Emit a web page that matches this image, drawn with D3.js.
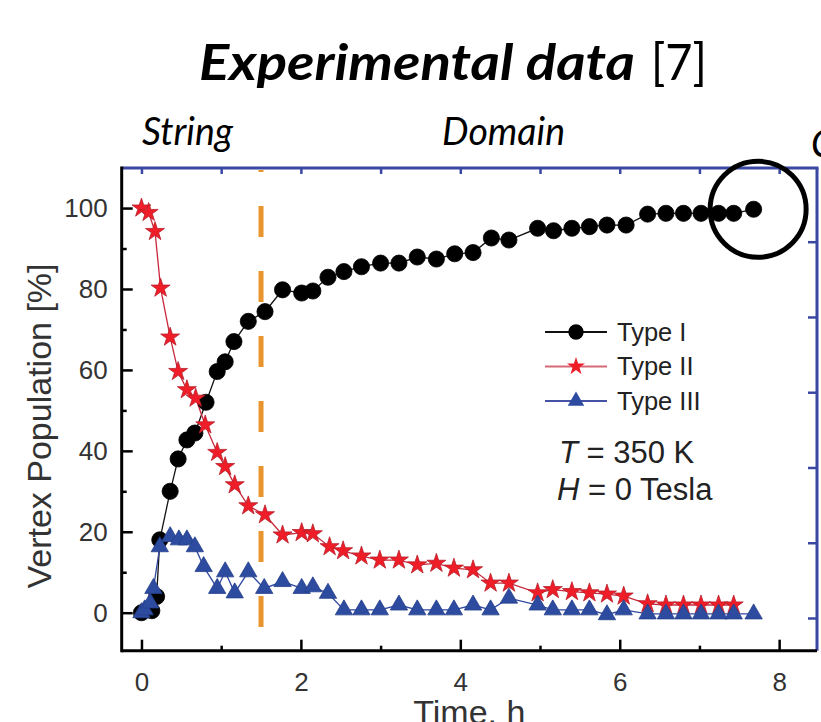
<!DOCTYPE html>
<html>
<head>
<meta charset="utf-8">
<script src="https://cdn.jsdelivr.net/npm/d3@7"></script>
<style>
  body { margin: 0; background: #fff; }
  svg { display: block; }
</style>
</head>
<body>
<div id="chart-area"></div>
<script>
// values (time in h, population in %)
var timeI = [0, 0.13, 0.19, 0.23, 0.36, 0.46, 0.57, 0.67, 0.81, 0.95, 1.05, 1.16, 1.34, 1.55, 1.77, 2.01, 2.15, 2.34, 2.54, 2.76, 3.0, 3.23, 3.46, 3.70, 3.93, 4.16, 4.39, 4.61, 4.97, 5.17, 5.40, 5.62, 5.84, 6.08, 6.35, 6.58, 6.80, 7.02, 7.24, 7.43, 7.68];
var typeI = [0, 0.5, 4, 18, 30, 38, 42.7, 44.4, 52, 59.6, 62, 67, 72, 74.4, 79.8, 79, 79.5, 82.9, 84.3, 85.5, 86.4, 86.4, 87.9, 87.4, 88.7, 89, 92.6, 92.1, 95, 94.4, 95, 95.4, 95.8, 95.8, 98.5, 98.7, 98.7, 98.7, 98.7, 98.7, 99.7];

var timeII = [0, 0.09, 0.17, 0.24, 0.36, 0.46, 0.57, 0.68, 0.80, 0.95, 1.05, 1.17, 1.34, 1.55, 1.77, 2.01, 2.15, 2.36, 2.53, 2.76, 2.99, 3.23, 3.46, 3.70, 3.92, 4.16, 4.38, 4.61, 4.97, 5.16, 5.40, 5.62, 5.84, 6.05, 6.35, 6.58, 6.80, 7.02, 7.24, 7.43];
var typeII = [100, 98.9, 94.2, 80.2, 68.1, 59.6, 55.1, 53, 46.4, 39.6, 36.1, 31.6, 26.4, 24.2, 19.2, 19.8, 19.5, 16.3, 15.3, 14, 13, 13, 11.8, 12.2, 11, 10.6, 7.3, 7.3, 4.9, 5.7, 5.2, 4.9, 4.6, 4.1, 2.2, 1.9, 1.9, 1.9, 1.9, 1.9];

var timeIII = [0, 0.04, 0.11, 0.15, 0.23, 0.36, 0.47, 0.57, 0.67, 0.78, 0.95, 1.05, 1.17, 1.34, 1.54, 1.77, 2.01, 2.15, 2.34, 2.54, 2.76, 2.99, 3.23, 3.46, 3.70, 3.92, 4.16, 4.38, 4.61, 4.97, 5.16, 5.40, 5.62, 5.84, 6.05, 6.35, 6.58, 6.80, 7.02, 7.24, 7.43, 7.68];
var typeIII = [0, 0.7, 2.4, 6, 16.3, 18.8, 18, 18, 16.3, 11.4, 6, 10.1, 4.9, 10.1, 6, 7.7, 6, 6.4, 4.8, 0.7, 0.7, 0.7, 1.9, 0.7, 0.7, 0.7, 1.9, 0.7, 3.6, 1.9, 0.7, 0.7, 0.7, -0.5, 0.7, -0.3, -0.3, -0.3, -0.3, -0.3, -0.3, -0.3];

var seriesNames = ["Type I", "Type II", "Type III"];
var xTicks = [0, 2, 4, 6, 8];
var xMinor = [1, 3, 5, 7];
var yTicks = [0, 20, 40, 60, 80, 100];
var yMinor = [10, 30, 50, 70, 90];
var rightTicks = [0, 20, 40, 60, 80, 100];
var phaseLabels = ["String", "Domain", "C"];
var phaseBoundary = 1.5;

var width = 821,
    height = 722;

var svg = d3.select("#chart-area")
    .append("svg")
    .attr("width", width)
    .attr("height", height);

// plot frame edges
var pLeft = 121.7, pRight = 817, pTop = 168, pBottom = 650.7;

var x = d3.scaleLinear().domain([-0.248, 8.475]).range([pLeft, pRight]);
var y = d3.scaleLinear().domain([-9.39, 109.9]).range([pBottom, pTop]);
// the right frame axis is drawn on its own spacing in the figure
var yRight = d3.scaleLinear().domain([0, 100]).range([618, 241.7]);

var blue = "#3a48a2";
var tickFont = "'Liberation Sans', Arial, sans-serif";

// title and phase labels
svg.append("text")
    .attr("x", 199).attr("y", 80)
    .attr("textLength", 436).attr("lengthAdjust", "spacingAndGlyphs")
    .style("font-family", "Lato, 'Open Sans', sans-serif")
    .style("font-weight", "bold").style("font-style", "italic")
    .style("font-size", "50px")
    .text("Experimental data");
svg.append("text")
    .attr("x", 651).attr("y", 80)
    .attr("textLength", 56).attr("lengthAdjust", "spacingAndGlyphs")
    .style("font-family", "Lato, 'Open Sans', sans-serif")
    .style("font-size", "50px")
    .text("[7]");

var phasePos = [[142, 145, 91], [442, 145, 123], [811, 157, null]];
phaseLabels.forEach(function(d, i) {
    var t = svg.append("text")
        .attr("x", phasePos[i][0]).attr("y", phasePos[i][1])
        .style("font-family", "Lato, 'Open Sans', sans-serif")
        .style("font-style", "italic")
        .style("font-size", "38px")
        .text(d);
    if (phasePos[i][2]) t.attr("textLength", phasePos[i][2]).attr("lengthAdjust", "spacingAndGlyphs");
});

// phase boundary
svg.append("line")
    .attr("x1", x(phaseBoundary)).attr("x2", x(phaseBoundary))
    .attr("y1", pTop + 2).attr("y2", pBottom)
    .attr("stroke", "#e9952f")
    .attr("stroke-width", 5)
    .attr("stroke-dasharray", "31,34")
    .attr("stroke-dashoffset", -36);

// series
var series = [
    {name: seriesNames[0], t: timeI, v: typeI, line: "#111", fill: "#000", stroke: "#000", sym: d3.symbolCircle, size: 205},
    {name: seriesNames[1], t: timeII, v: typeII, line: "#c8283c", fill: "#ee1d27", stroke: "#b8202c", sym: d3.symbolStar, size: 112},
    {name: seriesNames[2], t: timeIII, v: typeIII, line: "#2f47a0", fill: "#2d4b9f", stroke: "#243f8c", sym: d3.symbolTriangle, size: 130}
];

var line = d3.line()
    .x(function(d) { return x(d[0]); })
    .y(function(d) { return y(d[1]); });

series.forEach(function(s) {
    var pts = s.t.map(function(t, i) { return [t, s.v[i]]; });
    svg.append("path")
        .datum(pts)
        .attr("d", line)
        .attr("fill", "none")
        .attr("stroke", s.line)
        .attr("stroke-width", 1.3);
});

// markers drawn after all lines: blue on top like the figure
series.forEach(function(s) {
    var pts = s.t.map(function(t, i) { return [t, s.v[i]]; });
    svg.append("g").selectAll("path")
        .data(pts)
        .enter().append("path")
        .attr("transform", function(d) { return "translate(" + x(d[0]) + "," + y(d[1]) + ")"; })
        .attr("d", d3.symbol().type(s.sym).size(s.size))
        .attr("fill", s.fill)
        .attr("stroke", s.stroke)
        .attr("stroke-width", 0.8);
});

// frame axes
svg.append("g").attr("class", "ax").attr("transform", "translate(" + pLeft + ",0)")
    .call(d3.axisLeft(y).tickValues(yTicks).tickSize(-11).tickPadding(14));
svg.append("g").attr("class", "ax").attr("transform", "translate(" + pLeft + ",0)")
    .call(d3.axisLeft(y).tickValues(yMinor).tickSize(-5).tickFormat(""));
svg.append("g").attr("class", "ax").attr("transform", "translate(0," + pBottom + ")")
    .call(d3.axisBottom(x).tickValues(xTicks).tickSize(-11).tickPadding(22));
svg.append("g").attr("class", "ax").attr("transform", "translate(0," + pBottom + ")")
    .call(d3.axisBottom(x).tickValues(xMinor).tickSize(-5).tickFormat(""));

svg.selectAll(".ax .domain").remove();
svg.selectAll(".ax .tick line").attr("stroke", "#000").attr("stroke-width", 2.5);
svg.selectAll(".ax .tick text")
    .style("font-family", tickFont)
    .style("font-size", "26px")
    .attr("fill", "#333");

var gTop = svg.append("g").attr("transform", "translate(0," + pTop + ")")
    .call(d3.axisTop(x).tickValues(xTicks.concat(xMinor)).tickSize(-6).tickFormat(""));
var gRight = svg.append("g").attr("transform", "translate(" + pRight + ",0)")
    .call(d3.axisRight(yRight).tickValues(rightTicks).tickSize(-9).tickFormat(""));
[gTop, gRight].forEach(function(g) {
    g.select(".domain").remove();
    g.selectAll(".tick line").attr("stroke", blue).attr("stroke-width", 2.5);
});

svg.append("line").attr("x1", pLeft).attr("x2", pRight + 1.5).attr("y1", pTop).attr("y2", pTop)
    .attr("stroke", blue).attr("stroke-width", 3);
svg.append("line").attr("x1", pRight).attr("x2", pRight).attr("y1", pTop).attr("y2", pBottom)
    .attr("stroke", blue).attr("stroke-width", 3);
svg.append("line").attr("x1", pLeft).attr("x2", pLeft).attr("y1", pTop - 1.5).attr("y2", pBottom + 1.5)
    .attr("stroke", "#000").attr("stroke-width", 3);
svg.append("line").attr("x1", pLeft).attr("x2", pRight).attr("y1", pBottom).attr("y2", pBottom)
    .attr("stroke", "#000").attr("stroke-width", 3);

// axis titles
svg.append("text")
    .attr("transform", "translate(51,426)rotate(-90)")
    .attr("text-anchor", "middle")
    .style("font-family", tickFont)
    .style("font-size", "34px")
    .attr("fill", "#333")
    .text("Vertex Population [%]");
svg.append("text")
    .attr("x", (pLeft + pRight) / 2).attr("y", 724)
    .attr("text-anchor", "middle")
    .style("font-family", tickFont)
    .style("font-size", "34px")
    .attr("fill", "#333")
    .text("Time, h");

// legend
var legend = svg.append("g");
series.forEach(function(s, i) {
    var ly = 332 + i * 34.5;
    legend.append("line")
        .attr("x1", 545).attr("x2", 607).attr("y1", ly).attr("y2", ly)
        .attr("stroke", i === 1 ? "#d66a78" : (i === 2 ? "#4652a6" : "#111"))
        .attr("stroke-width", 2.2);
    legend.append("path")
        .attr("transform", "translate(576," + ly + ")")
        .attr("d", d3.symbol().type(s.sym).size(s.size * 0.9))
        .attr("fill", s.fill);
    legend.append("text")
        .attr("x", 617).attr("y", ly + 8.5)
        .style("font-family", tickFont)
        .style("font-size", "25.5px")
        .attr("fill", "#222")
        .text(s.name);
});

var cond = svg.append("g")
    .style("font-family", tickFont)
    .style("font-size", "31px")
    .attr("fill", "#222");
var c1 = cond.append("text").attr("x", 559).attr("y", 463);
c1.append("tspan").style("font-style", "italic").text("T");
c1.append("tspan").text(" = 350 K");
var c2 = cond.append("text").attr("x", 557).attr("y", 500);
c2.append("tspan").style("font-style", "italic").text("H");
c2.append("tspan").text(" = 0 Tesla");

// highlight ring round the final point
svg.append("circle")
    .attr("cx", x(timeI[timeI.length - 1]) + 4.5)
    .attr("cy", y(typeI[typeI.length - 1]))
    .attr("r", 48)
    .attr("fill", "none")
    .attr("stroke", "#000")
    .attr("stroke-width", 5);
</script>
</body>
</html>
